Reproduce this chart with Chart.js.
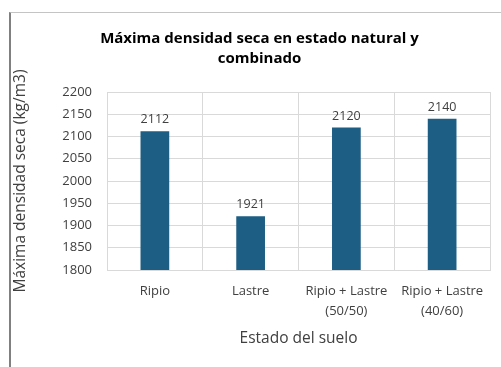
<!DOCTYPE html>
<html>
<head>
<meta charset="utf-8">
<script src="https://cdn.jsdelivr.net/npm/chart.js@4/dist/chart.umd.min.js"></script>
<style>
    html, body { margin: 0; padding: 0; background: #fff; overflow: hidden; }
    body { width: 501px; height: 367px; position: relative; }
    #frame {
        position: absolute; left: 9px; top: 12px; width: 520px; height: 380px;
        border-left: 2px solid #808080; border-top: 1px solid #c4c4c4;
    }
    #wrap { position: absolute; left: 11px; top: 13px; width: 500px; height: 354px; }
</style>
</head>
<body>
<div id="frame"></div>
<div id="wrap"><canvas id="chart"></canvas></div>
<script>
// datos
const categories = ['Ripio', 'Lastre', ['Ripio + Lastre', '(50/50)'], ['Ripio + Lastre', '(40/60)']];
const densidad = [2112, 1921, 2120, 2140];
const yMin = 1800;
const yMax = 2200;
const yStep = 50;

const FONT = '"Open Sans", Lato, sans-serif';

// etiquetas de valor sobre cada barra
const valueLabels = {
    id: 'valueLabels',
    afterDatasetsDraw(chart) {
        const ctx = chart.ctx;
        const meta = chart.getDatasetMeta(0);
        ctx.save();
        ctx.font = '12.5px ' + FONT;
        ctx.fillStyle = '#404040';
        ctx.textAlign = 'center';
        ctx.textBaseline = 'bottom';
        meta.data.forEach((bar, i) => {
            ctx.fillText(String(densidad[i]), bar.x, bar.y - 5);
        });
        ctx.restore();
    }
};

new Chart(document.getElementById('chart'), {
    type: 'bar',
    data: {
        labels: categories,
        datasets: [{
            data: densidad,
            backgroundColor: '#1d5e84',
            barPercentage: 0.3,
            categoryPercentage: 1
        }]
    },
    options: {
        responsive: true,
        maintainAspectRatio: false,
        animation: false,
        layout: { padding: { left: 0, right: 3, top: 0, bottom: 0 } },
        plugins: {
            legend: { display: false },
            tooltip: { enabled: false },
            title: {
                display: true,
                text: ['Máxima densidad seca en estado natural y', 'combinado'],
                color: '#000',
                font: { family: FONT, size: 15, weight: 'bold', lineHeight: 1.3 },
                padding: { top: 16, bottom: 24 }
            }
        },
        scales: {
            x: {
                grid: { color: '#d9d9d9', offset: true, drawTicks: false },
                border: { color: '#d9d9d9' },
                ticks: { color: '#404040', font: { family: FONT, size: 13, lineHeight: 1.5 }, padding: 12, maxRotation: 0 },
                title: {
                    display: true, text: 'Estado del suelo', color: '#404040',
                    font: { family: FONT, size: 15.5 }, padding: { top: 0, bottom: 19 }
                },
                afterFit(scale) { scale.height = 97; }
            },
            y: {
                min: yMin, max: yMax,
                grid: { color: '#d9d9d9', drawTicks: false },
                border: { display: false },
                ticks: {
                    stepSize: yStep, color: '#404040', font: { family: FONT, size: 13 }, padding: 15,
                    callback: v => String(v)
                },
                title: {
                    display: true, text: 'Máxima densidad seca (kg/m3)', color: '#404040',
                    font: { family: FONT, size: 15.5 }, padding: { top: 0, bottom: 0 }
                },
                afterFit(scale) { scale.width = 96; }
            },
            // eje vacio a la derecha solo para dejar el margen del grafico
            yRight: {
                position: 'right',
                min: yMin, max: yMax,
                grid: { display: false },
                border: { display: false },
                ticks: { display: false },
                afterFit(scale) { scale.width = 18; }
            }
        }
    },
    plugins: [valueLabels]
});
</script>
</body>
</html>
